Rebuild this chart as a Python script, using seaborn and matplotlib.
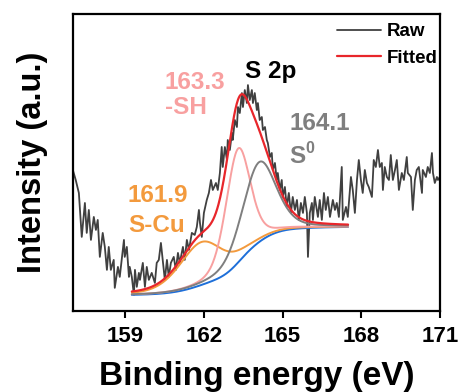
import numpy as np
import pandas as pd
import matplotlib
matplotlib.use("Agg")
import matplotlib.pyplot as plt
import seaborn as sns

# ---- raw S 2p spectrum (binding energy in eV, intensity in a.u.) ----
raw_energy = [
    157.00, 157.11, 157.23, 157.34, 157.46, 157.53, 157.61, 157.69, 157.80, 157.88,
    157.95, 158.03, 158.14, 158.22, 158.30, 158.37, 158.45, 158.56, 158.60, 158.72,
    158.79, 158.95, 158.98, 159.06, 159.14, 159.17, 159.25, 159.33, 159.37, 159.44,
    159.52, 159.56, 159.67, 159.75, 159.82, 159.90, 160.01, 160.13, 160.20, 160.28,
    160.36, 160.43, 160.51, 160.59, 160.66, 160.74, 160.85, 160.93, 161.01, 161.08,
    161.20, 161.27, 161.35, 161.43, 161.54, 161.65, 161.73, 161.81, 161.85, 161.92,
    162.00, 162.11, 162.19, 162.27, 162.34, 162.46, 162.53, 162.61, 162.68, 162.72,
    162.80, 162.88, 162.91, 162.99, 163.07, 163.10, 163.18, 163.26, 163.30, 163.37,
    163.45, 163.49, 163.56, 163.64, 163.68, 163.75, 163.83, 163.87, 163.94, 164.02,
    164.06, 164.13, 164.21, 164.25, 164.33, 164.40, 164.44, 164.52, 164.59, 164.63,
    164.71, 164.78, 164.82, 164.90, 164.97, 165.01, 165.09, 165.16, 165.24, 165.32,
    165.39, 165.47, 165.55, 165.62, 165.70, 165.78, 165.85, 165.93, 165.97, 166.04,
    166.12, 166.16, 166.23, 166.35, 166.42, 166.50, 166.58, 166.65, 166.73, 166.81,
    166.92, 167.00, 167.07, 167.15, 167.26, 167.30, 167.42, 167.49, 167.61, 167.68,
    167.76, 167.84, 167.91, 167.99, 168.06, 168.14, 168.22, 168.29, 168.41, 168.48,
    168.56, 168.64, 168.71, 168.79, 168.83, 168.90, 168.98, 169.06, 169.13, 169.21,
    169.29, 169.36, 169.44, 169.55, 169.63, 169.74, 169.78, 169.90, 169.97, 170.05,
    170.12, 170.20, 170.32, 170.35, 170.47, 170.54, 170.62, 170.70, 170.74, 170.81,
    170.89, 170.93, 171.00,
]
raw_intensity = [
    141, 131, 118, 74, 108, 78, 101, 71, 94, 81,
    91, 54, 78, 64, 41, 64, 41, 51, 23, 44,
    34, 71, 54, 64, 34, 44, 34, 16, 41, 24,
    38, 31, 48, 24, 44, 31, 38, 28, 48, 51,
    68, 51, 31, 51, 34, 48, 54, 41, 58, 48,
    64, 51, 71, 61, 78, 76, 84, 101, 88, 74,
    98, 111, 118, 131, 121, 128, 121, 138, 164, 144,
    164, 151, 171, 161, 178, 171, 191, 184, 204, 198,
    218, 204, 221, 208, 226, 211, 221, 208, 218, 201,
    208, 191, 194, 181, 184, 171, 168, 154, 158, 141,
    148, 131, 138, 121, 131, 114, 124, 104, 118, 98,
    114, 101, 111, 91, 108, 98, 114, 98, 54, 98,
    108, 91, 114, 94, 111, 91, 118, 101, 114, 94,
    111, 101, 108, 94, 144, 91, 104, 94, 134, 121,
    98, 131, 151, 131, 118, 141, 128, 124, 114, 151,
    144, 161, 144, 148, 121, 144, 134, 131, 156, 131,
    141, 151, 121, 138, 131, 154, 138, 134, 101, 131,
    141, 144, 118, 141, 134, 144, 138, 158, 138, 128,
    134, 131, 134,
]

# ---- fitted components (pseudo-Voigt) ----
peak_labels = ["S-Cu", "-SH", "S0"]
peak_centers = [161.9, 163.3, 164.1]
peak_heights = [43, 114, 80]
peak_fwhm = [2.0, 1.1, 1.5]
peak_lorentz = [0.35, 0.3, 0.35]

# Shirley background end points
fit_range = [159.25, 167.5]
background_ends = [16, 84]

peak_colors = ["#F39A3D", "#F8A0A0", "#7F7F7F"]
raw_color = "#404040"
fit_color = "#E8262B"
bg_color = "#1E6FD9"


def pseudo_voigt(e, c, h, w, eta):
    d2 = 4.0 * (e - c) ** 2 / w ** 2
    return h * ((1 - eta) * np.exp(-np.log(2) * d2) + eta / (1 + d2))


energy = np.linspace(fit_range[0], fit_range[1], 500)
peaks = [pseudo_voigt(energy, c, h, w, eta)
         for c, h, w, eta in zip(peak_centers, peak_heights, peak_fwhm, peak_lorentz)]
total = np.sum(peaks, axis=0)
cum = np.concatenate([[0], np.cumsum((total[1:] + total[:-1]) / 2 * np.diff(energy))])
background = background_ends[0] + (background_ends[1] - background_ends[0]) * cum / cum[-1]
fitted = background + total

sns.set_theme(style="ticks")
plt.rcParams["font.family"] = ["Liberation Sans", "DejaVu Sans"]
plt.rcParams["font.weight"] = "bold"
plt.rcParams["text.color"] = "black"
plt.rcParams["axes.labelcolor"] = "black"
plt.rcParams["xtick.color"] = "black"
plt.rcParams["xtick.labelcolor"] = "black"

fig = plt.figure(figsize=(4.61, 3.92), dpi=100)
ax = fig.add_axes([0.158, 0.207, 0.796, 0.757])

raw_df = pd.DataFrame({"energy": raw_energy, "intensity": raw_intensity})
sns.lineplot(data=raw_df, x="energy", y="intensity", ax=ax, color=raw_color,
             lw=1.3, label="Raw", sort=False)

sns.lineplot(x=energy, y=background, ax=ax, color=bg_color, lw=1.4)
for p, col in zip(peaks, peak_colors):
    sns.lineplot(x=energy, y=background + p, ax=ax, color=col, lw=1.4)
sns.lineplot(x=energy, y=fitted, ax=ax, color=fit_color, lw=1.6, label="Fitted")

ax.set_xlim(157.0, 171.0)
ax.set_ylim(0, 297)
ax.set_xticks([159, 162, 165, 168, 171])
ax.set_yticks([])
ax.tick_params(axis="x", direction="out", length=5, width=1.5, labelsize=16, pad=6,
               colors="black")
for lab in ax.get_xticklabels():
    lab.set_fontweight("bold")
for s in ax.spines.values():
    s.set_linewidth(1.6)
    s.set_color("black")

ax.set_xlabel("Binding energy (eV)", fontsize=24, fontweight="bold", labelpad=10)
ax.set_ylabel("Intensity (a.u.)", fontsize=23.5, fontweight="bold", labelpad=18)

leg = ax.legend(loc="upper right", frameon=False, fontsize=13.5, handlelength=2.3,
                handletextpad=0.35, labelspacing=0.5, borderaxespad=0.0,
                borderpad=0.0, bbox_to_anchor=(0.995, 0.97))
for t in leg.get_texts():
    t.set_fontweight("bold")

fs = 17.5
ax.text(163.56, 233, "S 2p", color="black", fontsize=fs, fontweight="bold")
ax.text(160.51, 222, "163.3", color=peak_colors[1], fontsize=fs, fontweight="bold")
ax.text(160.51, 197, "-SH", color=peak_colors[1], fontsize=fs, fontweight="bold")
ax.text(165.27, 181, "164.1", color=peak_colors[2], fontsize=fs, fontweight="bold")
ax.text(165.27, 148, "S", color=peak_colors[2], fontsize=fs, fontweight="bold")
ax.text(165.86, 158, "0", color=peak_colors[2], fontsize=11.5, fontweight="bold")
ax.text(159.10, 109, "161.9", color=peak_colors[0], fontsize=fs, fontweight="bold")
ax.text(159.10, 79, "S-Cu", color=peak_colors[0], fontsize=fs, fontweight="bold")

fig.savefig("out.png", dpi=100)
